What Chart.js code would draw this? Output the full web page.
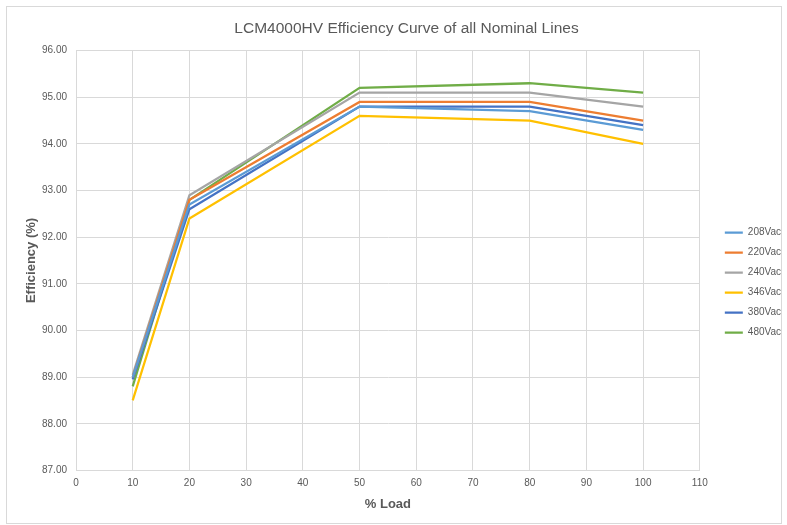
<!DOCTYPE html>
<html>
<head>
<meta charset="utf-8">
<script src="https://cdn.jsdelivr.net/npm/chart.js@4"></script>
<style>
  html, body { margin: 0; padding: 0; background: #ffffff; }
  #wrap { position: relative; width: 787px; height: 525px; }
  #frame { position: absolute; left: 6px; top: 6px; width: 774px; height: 516px; border: 1px solid #d9d9d9; pointer-events: none; }
  canvas { position: absolute; left: 0; top: 0; }
</style>
</head>
<body>
<div id="wrap">
  <canvas id="c" width="787" height="525"></canvas>
  <div id="frame"></div>
</div>
<script>
const title = "LCM4000HV Efficiency Curve of all Nominal Lines";
const loads = [10, 20, 50, 80, 100];
const seriesNames = ["208Vac", "220Vac", "240Vac", "346Vac", "380Vac", "480Vac"];
const v208 = [89.0, 92.7, 94.8, 94.7, 94.3];
const v220 = [89.0, 92.8, 94.9, 94.9, 94.5];
const v240 = [89.05, 92.9, 95.1, 95.1, 94.8];
const v346 = [88.5, 92.4, 94.6, 94.5, 94.0];
const v380 = [88.95, 92.6, 94.8, 94.8, 94.4];
const v480 = [88.8, 92.8, 95.2, 95.3, 95.1];
const colors = ["#5B9BD5", "#ED7D31", "#A5A5A5", "#FFC000", "#4472C4", "#70AD47"];
const xTitle = "% Load";
const yTitle = "Efficiency (%)";

const allValues = [v208, v220, v240, v346, v380, v480];
const datasets = allValues.map((vals, i) => ({
  label: seriesNames[i],
  data: loads.map((x, j) => ({ x: x, y: vals[j] })),
  borderColor: colors[i],
  backgroundColor: colors[i],
  borderWidth: 2.25,
  pointRadius: 0,
  pointHoverRadius: 0,
  tension: 0,
  fill: false,
  pointStyle: 'line',
  yAxisID: 'y'
}));

const textColor = "#595959";
const gridColor = "#d9d9d9";
const fam = "'Liberation Sans', Arial, sans-serif";

new Chart(document.getElementById('c'), {
  type: 'line',
  data: { datasets: datasets },
  options: {
    responsive: false,
    animation: false,
    layout: { padding: { left: 22, right: -4, top: 0, bottom: 11 } },
    plugins: {
      title: {
        display: true,
        text: title,
        color: textColor,
        font: { family: fam, size: 15.5, weight: 'normal' },
        padding: { top: 19, bottom: 13 }
      },
      legend: {
        display: true,
        position: 'right',
        align: 'center',
        title: { display: true, text: '', font: { size: 10 }, padding: { top: 39, bottom: 0 } },
        labels: {
          usePointStyle: true,
          pointStyle: 'line',
          pointStyleWidth: 18,
          boxHeight: 10,
          padding: 10,
          color: textColor,
          font: { family: fam, size: 10 }
        }
      },
      tooltip: { enabled: false }
    },
    scales: {
      x: {
        type: 'linear',
        min: 0,
        max: 110,
        ticks: { stepSize: 10, color: textColor, font: { family: fam, size: 10 }, padding: 7, maxRotation: 0 },
        grid: { color: gridColor, drawTicks: false, tickLength: 0 },
        border: { color: gridColor },
        title: { display: true, text: xTitle, color: textColor, font: { family: fam, size: 13, weight: 'bold' }, padding: { top: 0, bottom: 2 } }
      },
      y: {
        type: 'linear',
        position: 'left',
        min: 87,
        max: 96,
        ticks: { stepSize: 1, color: textColor, font: { family: fam, size: 10 }, padding: 9, callback: v => Number(v).toFixed(2) },
        grid: { color: gridColor, drawTicks: false, tickLength: 0 },
        border: { color: gridColor },
        title: { display: true, text: yTitle, color: textColor, font: { family: fam, size: 13, weight: 'bold' }, padding: { top: 2, bottom: 0 } },
        afterFit: s => { s.width = 54; }
      },
      ySpacer: {
        type: 'linear',
        position: 'right',
        min: 87,
        max: 96,
        display: true,
        ticks: { display: false },
        grid: { display: false, drawTicks: false },
        border: { display: false },
        afterFit: s => { s.width = 15; }
      }
    }
  }
});
</script>
</body>
</html>
